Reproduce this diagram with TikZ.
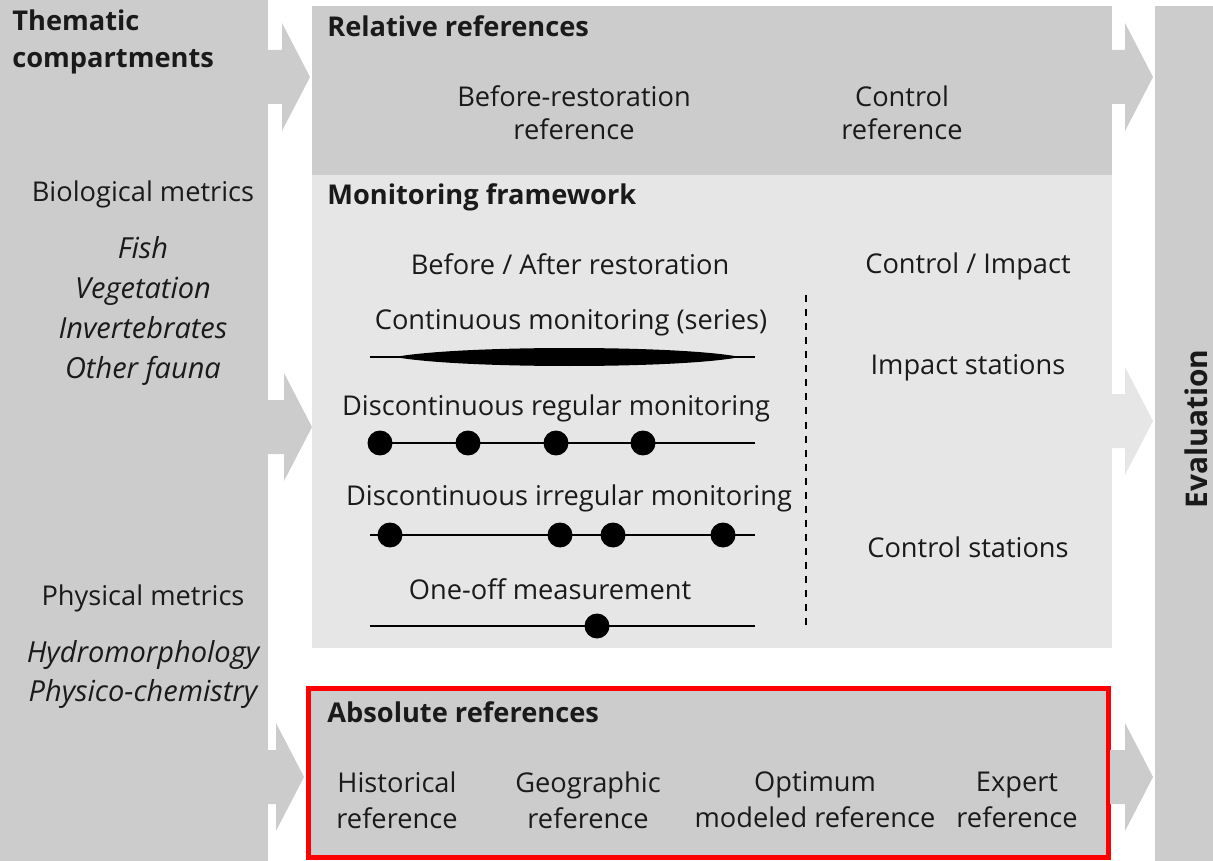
\documentclass[tikz,border=0pt]{standalone}
\usepackage{fontspec}
\setmainfont{Open Sans}
\usetikzlibrary{positioning}
\definecolor{panel}{HTML}{CCCCCC}
\definecolor{pale}{HTML}{E6E6E6}
\definecolor{frame}{HTML}{FF0000}
\definecolor{ink}{HTML}{1A1A1A}
% block arrow: colour, start x, tip x, centre y
\newcommand{\blockarrow}[4]{\fill[#1] (#2,#4-27) -- (#3-28,#4-27) -- (#3-28,#4-54) -- (#3,#4) -- (#3-28,#4+54) -- (#3-28,#4+27) -- (#2,#4+27) -- cycle;}
\begin{document}
\begin{tikzpicture}[x=0.02cm,y=-0.02cm,font=\fontsize{15.5}{18.7}\selectfont,text=ink,
  txt/.style={align=center,inner sep=0pt},
  title/.style={font=\fontsize{15.5}{18.7}\selectfont\bfseries,anchor=west,inner sep=0pt},
  track/.style={draw=black,line width=1.7pt},
  dot/.style={circle,fill=black,inner sep=0pt,minimum size=0.5cm}]
\useasboundingbox (0,0) rectangle (1213,861);
% panels
\fill[panel] (0,0) rectangle (268,861);
\fill[panel] (1155,6) rectangle (1213,861);
\fill[panel] (312,6) rectangle (1112,175);
\fill[pale] (312,175) rectangle (1112,648);
\filldraw[fill=panel,draw=frame,line width=2.85pt] (308,688) rectangle (1108,857);
% arrows
\blockarrow{panel}{267}{310}{77}
\blockarrow{panel}{267}{312}{427}
\blockarrow{panel}{267}{304}{777}
\blockarrow{panel}{1112}{1153}{77}
\blockarrow{pale}{1112}{1153}{421}
\blockarrow{panel}{1110}{1153}{777}
% left column
\node[title,align=left,font=\fontsize{15.5}{21.5}\selectfont\bfseries] (thematic) at (12,42) {Thematic\\compartments};
\node[txt] (bio) at (143,194) {Biological metrics};
\node[txt,font=\fontsize{16.5}{22.7}\selectfont\itshape] (biolist) at (143,311) {Fish\\Vegetation\\Invertebrates\\Other fauna};
\node[txt] (phys) at (143,598) {Physical metrics};
\node[txt,font=\fontsize{16.5}{22.1}\selectfont\itshape] (physlist) at (143,674.5) {Hydromorphology\\Physico-chemistry};
% relative references
\node[title] (relative) at (327,26) {Relative references};
\node[txt] (beforeref) at (574,112.5) {Before-restoration\\reference};
\node[txt] (controlref) at (902,112.5) {Control\\reference};
% monitoring framework
\node[title] (monitoring) at (327,197) {Monitoring framework};
\node[txt] (ba) at (570,264) {Before / After restoration};
\node[txt] (ci) at (968,266) {Control / Impact};
\node[txt] (cont) at (571,323) {Continuous monitoring (series)};
\node[txt] (impact) at (968,368) {Impact stations};
\node[txt] (regular) at (556,408) {Discontinuous regular monitoring};
\node[txt] (irregular) at (569,498) {Discontinuous irregular monitoring};
\node[txt] (control) at (968,547) {Control stations};
\node[txt] (oneoff) at (550,589) {One-off measurement};
\coordinate (sep top) at (806,295);
\coordinate (sep bot) at (806,630);
\draw[black,line width=1.2pt,dash pattern=on 4pt off 4pt] (sep top) -- (sep bot);
% tracks
\coordinate (c1) at (370,357); \coordinate (c2) at (755,357);
\draw[track] (c1) -- (c2);
\fill[black] (395,357) .. controls (460,345) and (680,345) .. (740,357) .. controls (680,369) and (460,369) .. cycle;
\coordinate (r1) at (370,443); \coordinate (r2) at (755,443);
\draw[track] (r1) -- (r2);
\foreach \x in {380,468,556,643} \node[dot] at (\x,443) {};
\coordinate (i1) at (370,535); \coordinate (i2) at (755,535);
\draw[track] (i1) -- (i2);
\foreach \x in {390,560,613,723} \node[dot] at (\x,535) {};
\coordinate (o1) at (370,626); \coordinate (o2) at (755,626);
\draw[track] (o1) -- (o2);
\node[dot] (single) at (597,626) {};
% absolute references
\node[title] (absolute) at (327,712) {Absolute references};
\node[txt,font=\fontsize{15.5}{20.4}\selectfont] (hist) at (397,800) {Historical\\reference};
\node[txt,font=\fontsize{15.5}{20.4}\selectfont] (geo) at (588,800) {Geographic\\reference};
\node[txt,font=\fontsize{15.5}{20.4}\selectfont] (optimum) at (815,800) {Optimum\\modeled reference};
\node[txt,font=\fontsize{15.5}{20.4}\selectfont] (expert) at (1017,800) {Expert\\reference};
% evaluation
\node[txt,font=\fontsize{17}{20}\selectfont\bfseries,rotate=90] (eval) at (1196,429) {Evaluation};
\end{tikzpicture}
\end{document}
